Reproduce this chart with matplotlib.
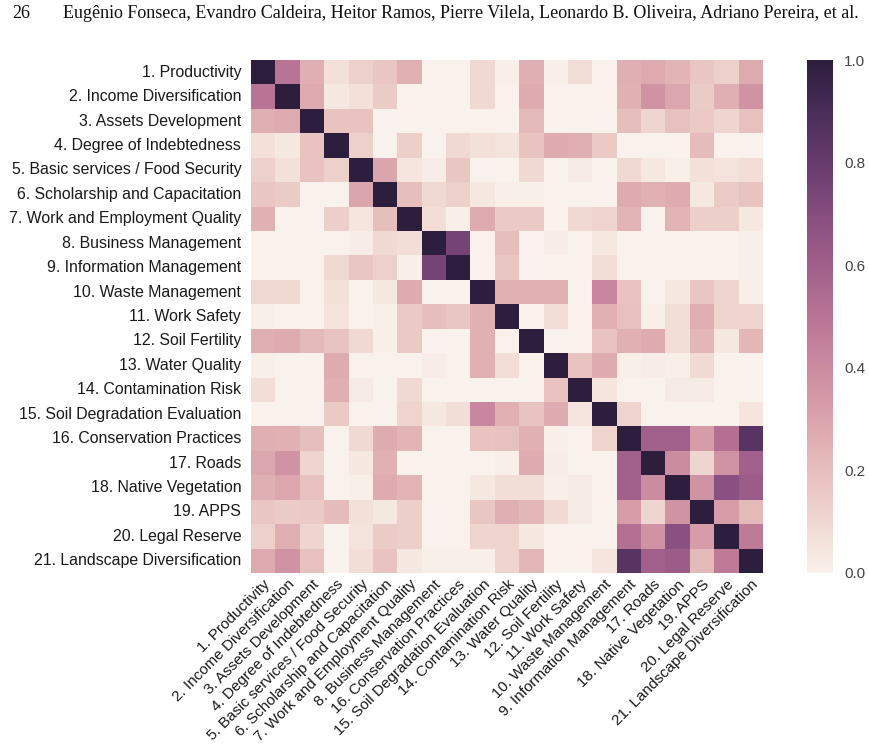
import numpy as np
import matplotlib
matplotlib.use("Agg")
import matplotlib.pyplot as plt
import seaborn as sns

# row / column labels as printed on the figure
row_labels = [
    "1. Productivity", "2. Income Diversification", "3. Assets Development",
    "4. Degree of Indebtedness", "5. Basic services / Food Security",
    "6. Scholarship and Capacitation", "7. Work and Employment Quality",
    "8. Business Management", "9. Information Management",
    "10. Waste Management", "11. Work Safety", "12. Soil Fertility",
    "13. Water Quality", "14. Contamination Risk",
    "15. Soil Degradation Evaluation", "16. Conservation Practices",
    "17. Roads", "18. Native Vegetation", "19. APPS", "20. Legal Reserve",
    "21. Landscape Diversification",
]
col_labels = [
    "1. Productivity", "2. Income Diversification", "3. Assets Development",
    "4. Degree of Indebtedness", "5. Basic services / Food Security",
    "6. Scholarship and Capacitation", "7. Work and Employment Quality",
    "8. Business Management", "16. Conservation Practices",
    "15. Soil Degradation Evaluation", "14. Contamination Risk",
    "13. Water Quality", "12. Soil Fertility", "11. Work Safety",
    "10. Waste Management", "9. Information Management", "17. Roads",
    "18. Native Vegetation", "19. APPS", "20. Legal Reserve",
    "21. Landscape Diversification",
]

# correlation values, read row by row
r01 = [1.00, 0.50, 0.26, 0.07, 0.13, 0.17, 0.25, 0.00, 0.00, 0.10, 0.01, 0.26, 0.01, 0.08, 0.00, 0.26, 0.28, 0.24, 0.17, 0.13, 0.28]
r02 = [0.50, 1.00, 0.28, 0.04, 0.07, 0.15, 0.00, 0.00, 0.00, 0.10, 0.00, 0.27, 0.00, 0.00, 0.00, 0.25, 0.37, 0.29, 0.15, 0.26, 0.37]
r03 = [0.26, 0.28, 1.00, 0.18, 0.18, 0.00, 0.00, 0.00, 0.00, 0.00, 0.00, 0.22, 0.00, 0.00, 0.00, 0.20, 0.11, 0.19, 0.16, 0.11, 0.19]
r04 = [0.07, 0.04, 0.18, 1.00, 0.13, 0.00, 0.14, 0.00, 0.10, 0.07, 0.06, 0.18, 0.27, 0.26, 0.16, 0.00, 0.00, 0.00, 0.21, 0.00, 0.00]
r05 = [0.13, 0.07, 0.18, 0.13, 1.00, 0.30, 0.05, 0.02, 0.17, 0.00, 0.00, 0.10, 0.00, 0.03, 0.00, 0.10, 0.04, 0.01, 0.07, 0.06, 0.08]
r06 = [0.17, 0.15, 0.00, 0.00, 0.30, 1.00, 0.20, 0.10, 0.13, 0.04, 0.01, 0.01, 0.00, 0.00, 0.00, 0.27, 0.25, 0.27, 0.04, 0.15, 0.18]
r07 = [0.25, 0.00, 0.00, 0.14, 0.05, 0.20, 1.00, 0.08, 0.01, 0.27, 0.16, 0.16, 0.00, 0.10, 0.12, 0.24, 0.00, 0.24, 0.14, 0.14, 0.04]
r08 = [0.00, 0.00, 0.00, 0.00, 0.02, 0.10, 0.08, 1.00, 0.75, 0.00, 0.20, 0.00, 0.02, 0.00, 0.04, 0.00, 0.00, 0.00, 0.00, 0.00, 0.01]
r09 = [0.00, 0.00, 0.00, 0.10, 0.17, 0.13, 0.01, 0.75, 1.00, 0.00, 0.17, 0.00, 0.00, 0.00, 0.08, 0.00, 0.00, 0.00, 0.00, 0.00, 0.01]
r10 = [0.10, 0.10, 0.00, 0.07, 0.00, 0.04, 0.27, 0.00, 0.00, 1.00, 0.25, 0.25, 0.25, 0.00, 0.42, 0.18, 0.00, 0.04, 0.17, 0.11, 0.01]
r11 = [0.01, 0.00, 0.00, 0.06, 0.00, 0.01, 0.16, 0.20, 0.17, 0.25, 1.00, 0.00, 0.08, 0.00, 0.25, 0.19, 0.01, 0.08, 0.26, 0.12, 0.12]
r12 = [0.26, 0.27, 0.22, 0.18, 0.10, 0.01, 0.16, 0.00, 0.00, 0.25, 0.00, 1.00, 0.00, 0.00, 0.18, 0.25, 0.27, 0.08, 0.23, 0.04, 0.23]
r13 = [0.01, 0.00, 0.00, 0.27, 0.00, 0.00, 0.00, 0.02, 0.00, 0.25, 0.08, 0.00, 1.00, 0.18, 0.27, 0.01, 0.02, 0.01, 0.09, 0.00, 0.00]
r14 = [0.08, 0.00, 0.00, 0.26, 0.03, 0.00, 0.10, 0.00, 0.00, 0.00, 0.00, 0.00, 0.18, 1.00, 0.05, 0.00, 0.00, 0.03, 0.03, 0.00, 0.00]
r15 = [0.00, 0.00, 0.00, 0.16, 0.00, 0.00, 0.12, 0.04, 0.08, 0.42, 0.25, 0.18, 0.27, 0.05, 1.00, 0.12, 0.00, 0.00, 0.00, 0.00, 0.05]
r16 = [0.26, 0.25, 0.20, 0.00, 0.10, 0.27, 0.24, 0.00, 0.00, 0.18, 0.19, 0.25, 0.01, 0.00, 0.12, 1.00, 0.60, 0.60, 0.33, 0.52, 0.85]
r17 = [0.29, 0.37, 0.11, 0.00, 0.04, 0.25, 0.00, 0.00, 0.00, 0.00, 0.01, 0.27, 0.02, 0.00, 0.00, 0.60, 1.00, 0.40, 0.11, 0.37, 0.60]
r18 = [0.26, 0.29, 0.19, 0.00, 0.01, 0.27, 0.24, 0.00, 0.00, 0.04, 0.08, 0.08, 0.01, 0.03, 0.00, 0.60, 0.40, 1.00, 0.37, 0.68, 0.62]
r19 = [0.17, 0.15, 0.16, 0.21, 0.07, 0.04, 0.14, 0.00, 0.00, 0.17, 0.26, 0.23, 0.09, 0.03, 0.00, 0.33, 0.11, 0.37, 1.00, 0.33, 0.22]
r20 = [0.13, 0.26, 0.11, 0.00, 0.06, 0.15, 0.14, 0.00, 0.00, 0.11, 0.12, 0.04, 0.00, 0.00, 0.00, 0.52, 0.37, 0.68, 0.33, 1.00, 0.47]
r21 = [0.28, 0.37, 0.19, 0.00, 0.08, 0.18, 0.04, 0.01, 0.01, 0.01, 0.12, 0.23, 0.00, 0.00, 0.05, 0.85, 0.60, 0.62, 0.22, 0.47, 1.00]

corr = np.array([r01, r02, r03, r04, r05, r06, r07, r08, r09, r10, r11,
                 r12, r13, r14, r15, r16, r17, r18, r19, r20, r21])

header_page = "26"
header_authors = ("Eugênio Fonseca, Evandro Caldeira, Heitor Ramos, Pierre Vilela, "
                  "Leonardo B. Oliveira, Adriano Pereira, et al.")

sns.set_style("white")
plt.rcParams["font.family"] = ["Liberation Sans", "DejaVu Sans"]
txt_col = "#1a1a1a"

W, H = 870, 755
fig = plt.figure(figsize=(W / 100, H / 100), dpi=100)

# heatmap box and colorbar box, in pixels of the picture
hx0, hx1, hy0, hy1 = 251, 763, 60, 573
ax = fig.add_axes([hx0 / W, 1 - hy1 / H, (hx1 - hx0) / W, (hy1 - hy0) / H])
cax = fig.add_axes([807 / W, 1 - hy1 / H, 26 / W, (hy1 - hy0) / H])

cmap = sns.cubehelix_palette(light=.95, as_cmap=True)
sns.heatmap(corr, ax=ax, cbar_ax=cax, cmap=cmap, vmin=0, vmax=1,
            xticklabels=col_labels, yticklabels=row_labels)

ax.tick_params(axis="y", length=0, pad=7)
ax.tick_params(axis="x", length=0, pad=3)
ax.set_yticklabels(row_labels, rotation=0, fontsize=11.4, color=txt_col)
ax.set_xticklabels(col_labels, rotation=45, ha="right", rotation_mode="anchor",
                   fontsize=11.0, color=txt_col)

cax.tick_params(length=0, labelsize=11, labelcolor="#444444", pad=8)
cax.set_yticks([0.0, 0.2, 0.4, 0.6, 0.8, 1.0])
cax.set_yticklabels(["0.0", "0.2", "0.4", "0.6", "0.8", "1.0"])

# running header of the page
fig.text(12 / W, 1 - 13 / H, header_page, family="Liberation Serif", fontsize=13,
         va="center", ha="left", color="#111111")
fig.text(63 / W, 1 - 13 / H, header_authors, family="Liberation Serif", fontsize=13,
         va="center", ha="left", color="#111111")

fig.savefig("out.png", dpi=100)
